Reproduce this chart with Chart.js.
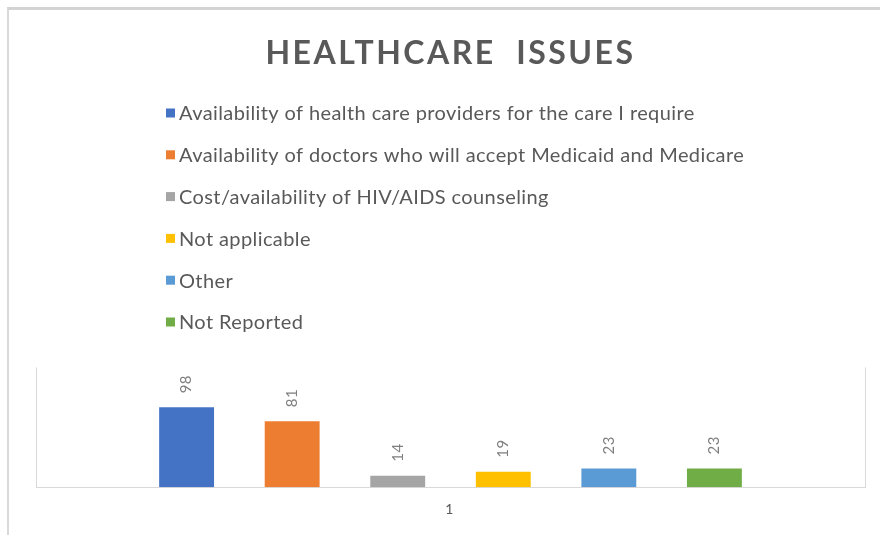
<!DOCTYPE html>
<html>
<head>
<meta charset="utf-8">
<title>Healthcare Issues</title>
<script src="https://cdn.jsdelivr.net/npm/chart.js@4.4.1/dist/chart.umd.min.js"></script>
<style>
    html, body { margin: 0; padding: 0; background: #fff; }
    .frame {
        position: absolute;
        left: 7px;
        top: 7px;
        width: 880px;
        height: 540px;
        border-top: 3px solid #d3d3d3;
        border-left: 2px solid #d9d9d9;
    }
    .wrap { position: absolute; left: 0; top: 0; width: 880px; height: 535px; }
</style>
</head>
<body>
<div class="frame"></div>
<div class="wrap"><canvas id="chart"></canvas></div>
<script>
(function() {
    'use strict';

    // Data
    const categories = ['1'];
    const seriesNames = [
        'Availability of health care providers for the care I require',
        'Availability of doctors who will accept Medicaid and Medicare',
        'Cost/availability of HIV/AIDS counseling',
        'Not applicable',
        'Other',
        'Not Reported'
    ];
    const seriesValues = [98, 81, 14, 19, 23, 23];
    const seriesColors = ['#4472C4', '#ED7D31', '#A5A5A5', '#FFC000', '#5B9BD5', '#70AD47'];

    const textColor = '#595959';
    const fontFamily = "Lato, 'Open Sans', sans-serif";

    // Title letter spacing (Chart.js has no option for it)
    const spacedTitle = {
        id: 'spacedTitle',
        beforeDraw(chart) {
            chart.ctx.letterSpacing = '2.5px';
        },
        beforeDatasetsDraw(chart) {
            chart.ctx.letterSpacing = '0px';
        }
    };

    // Rotated value labels above each bar
    const barLabels = {
        id: 'barLabels',
        afterDatasetsDraw(chart) {
            const ctx = chart.ctx;
            ctx.save();
            ctx.letterSpacing = '0.5px';
            ctx.font = '15px ' + fontFamily;
            ctx.fillStyle = '#7f7f7f';
            ctx.textAlign = 'left';
            ctx.textBaseline = 'middle';
            chart.data.datasets.forEach((ds, i) => {
                const meta = chart.getDatasetMeta(i);
                meta.data.forEach((bar, j) => {
                    ctx.save();
                    ctx.translate(bar.x, bar.y - 14);
                    ctx.rotate(-Math.PI / 2);
                    ctx.fillText(String(ds.data[j]), 0, 0);
                    ctx.restore();
                });
            });
            ctx.restore();
        }
    };

    // Vertical, left-aligned legend list under the title
    const listLegend = {
        id: 'listLegend',
        afterDraw(chart) {
            const ctx = chart.ctx;
            const left = 166;
            const firstRow = 113;
            const rowGap = 41.8;
            ctx.save();
            ctx.letterSpacing = '0.4px';
            ctx.font = '20px ' + fontFamily;
            ctx.textAlign = 'left';
            ctx.textBaseline = 'middle';
            chart.data.datasets.forEach((ds, i) => {
                const y = firstRow + i * rowGap;
                ctx.fillStyle = ds.backgroundColor;
                ctx.fillRect(left, y - 4.5, 9, 9);
                ctx.fillStyle = textColor;
                ctx.fillText(ds.label, left + 13, y + 1);
            });
            ctx.restore();
        }
    };

    const datasets = seriesNames.map((name, i) => ({
        label: name,
        data: [seriesValues[i]],
        backgroundColor: seriesColors[i],
        borderWidth: 0,
        categoryPercentage: 0.764,
        barPercentage: 0.52
    }));

    new Chart(document.getElementById('chart'), {
        type: 'bar',
        data: {
            labels: categories,
            datasets: datasets
        },
        options: {
            responsive: true,
            maintainAspectRatio: false,
            animation: false,
            layout: {
                padding: { left: 36, right: 15, top: 0, bottom: 3 }
            },
            plugins: {
                legend: { display: false },
                tooltip: { enabled: false },
                title: {
                    display: true,
                    text: 'HEALTHCARE  ISSUES',
                    color: textColor,
                    font: { family: fontFamily, size: 32, weight: 'bold' },
                    padding: { top: 34, bottom: 295 }
                }
            },
            scales: {
                x: {
                    grid: {
                        display: true,
                        offset: true,
                        color: '#d9d9d9',
                        drawTicks: false
                    },
                    border: { color: '#d9d9d9' },
                    ticks: {
                        color: textColor,
                        font: { family: fontFamily, size: 14 },
                        padding: 14
                    }
                },
                y: {
                    display: false,
                    min: 0,
                    max: 147
                }
            }
        },
        plugins: [spacedTitle, barLabels, listLegend]
    });
})();
</script>
</body>
</html>
